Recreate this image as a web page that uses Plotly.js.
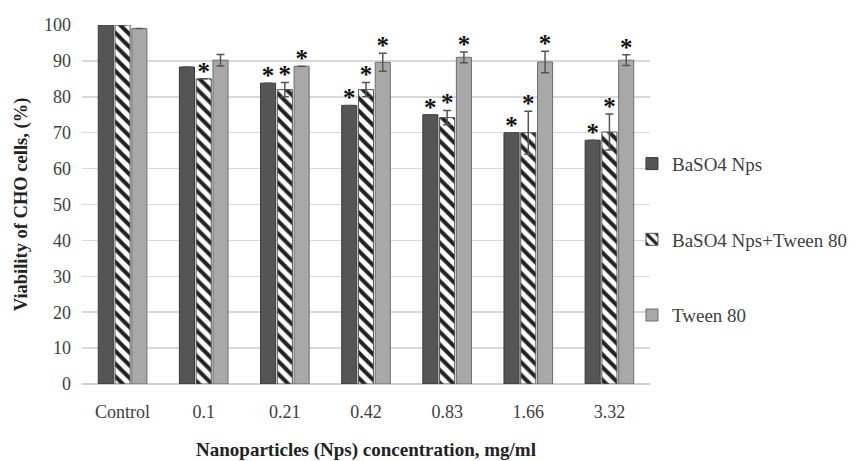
<!DOCTYPE html>
<html>
<head>
<meta charset="utf-8">
<script src="https://cdn.plot.ly/plotly-3.0.1.min.js"></script>
<style>html,body{margin:0;padding:0;background:#fff;}#chart{width:854px;height:461px;}</style>
</head>
<body>
<div id="chart"></div>
<script>
var categories = ["Control", "0.1", "0.21", "0.42", "0.83", "1.66", "3.32"];
var seriesNames = ["BaSO4 Nps", "BaSO4 Nps+Tween 80", "Tween 80"];
var baso4 = [100, 88.3, 83.8, 77.6, 75.0, 70.0, 67.9];
var baso4Err = [0, 0, 0, 0, 0, 0, 0];
var baso4Tween = [100, 85.0, 82.0, 82.0, 74.2, 70.0, 70.2];
var baso4TweenErr = [0, 0, 2.0, 2.0, 2.0, 6.0, 5.0];
var tween = [99.0, 90.2, 88.5, 89.6, 91.0, 89.7, 90.2];
var tweenErr = [0, 1.6, 0, 2.5, 1.5, 3.0, 1.5];
var baso4Sig = [false, false, true, true, true, true, true];
var baso4TweenSig = [false, true, true, true, true, true, true];
var tweenSig = [false, false, true, true, true, true, true];

var serif = "Liberation Serif, Times New Roman, serif";

function barTrace(name, y, err, color, line, pattern, group) {
  var t = {
    type: "bar", name: name, x: categories, y: y,
    offsetgroup: group, legendgroup: group,
    marker: {color: color, line: {color: line, width: 1}},
    error_y: {type: "data", array: err, visible: true, color: "#555", thickness: 1.5, width: 4},
    hoverinfo: "x+y"
  };
  if (pattern) t.marker.pattern = pattern;
  return t;
}

function starTrace(y, err, sig, group) {
  var ys = [], txt = [];
  for (var i = 0; i < y.length; i++) {
    ys.push(y[i] + err[i] + 1.5);
    txt.push(sig[i] ? "*" : "");
  }
  return {
    type: "scatter", mode: "text", x: categories, y: ys, text: txt,
    textposition: "middle center", offsetgroup: group,
    textfont: {family: serif, size: 25, color: "#111", weight: "bold"},
    showlegend: false, hoverinfo: "skip", cliponaxis: false
  };
}

var data = [
  barTrace(seriesNames[0], baso4, baso4Err, "#555555", "#3a3a3a", null, "a"),
  barTrace(seriesNames[1], baso4Tween, baso4TweenErr, "#ffffff", "#555555",
    {shape: "\\", fgcolor: "#222222", bgcolor: "#ffffff", size: 9, solidity: 0.45}, "b"),
  barTrace(seriesNames[2], tween, tweenErr, "#a8a8a8", "#6e6e6e", null, "c"),
  starTrace(baso4, baso4Err, baso4Sig, "a"),
  starTrace(baso4Tween, baso4TweenErr, baso4TweenSig, "b"),
  starTrace(tween, tweenErr, tweenSig, "c")
];

var layout = {
  width: 854, height: 461,
  margin: {l: 82, r: 204, t: 25, b: 77, autoexpand: false},
  paper_bgcolor: "#ffffff", plot_bgcolor: "#ffffff",
  barmode: "group", bargap: 0.38, bargroupgap: 0.1,
  scattermode: "group", scattergap: 0.38,
  font: {family: serif, color: "#404040", size: 18},
  xaxis: {
    type: "category", showgrid: false, showline: false, ticks: "",
    tickfont: {family: serif, size: 18, color: "#404040"}, ticklabelstandoff: 15,
    title: {text: "Nanoparticles (Nps) concentration, mg/ml", font: {family: serif, size: 19, color: "#222", weight: "bold"}, standoff: 22}
  },
  yaxis: {
    range: [0, 100], dtick: 10, showgrid: true, gridcolor: "#d9d9d9", gridwidth: 1.5,
    zeroline: true, zerolinecolor: "#d0d0d0", zerolinewidth: 1.5, showline: false, ticks: "",
    tickfont: {family: serif, size: 18, color: "#404040"}, ticklabelstandoff: 10,
    title: {text: "Viability of CHO cells, (%)", font: {family: serif, size: 18.5, color: "#222", weight: "bold"}, standoff: 11}
  },
  legend: {
    xref: "container", yref: "container",
    x: 0.74, xanchor: "left", y: 0.686, yanchor: "top",
    font: {family: serif, size: 19, color: "#404040"},
    tracegroupgap: 48, bgcolor: "rgba(0,0,0,0)", itemwidth: 30
  },
  showlegend: true
};

Plotly.newPlot("chart", data, layout, {displayModeBar: false, staticPlot: true});
</script>
</body>
</html>
